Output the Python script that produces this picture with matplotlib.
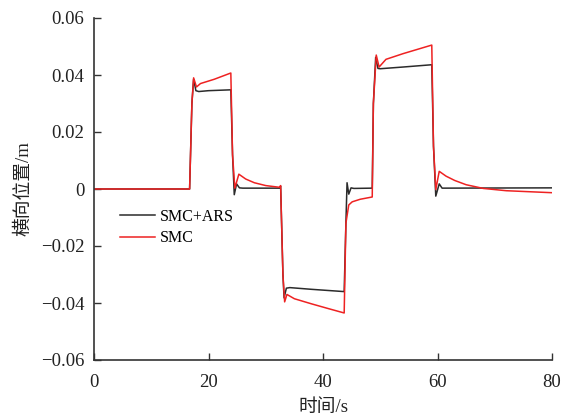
import matplotlib
matplotlib.use("Agg")
import matplotlib.pyplot as plt
import numpy as np

plt.rcParams['font.family'] = ['Liberation Serif', 'Noto Sans CJK SC']
plt.rcParams['font.size'] = 13.5

# keypoints (time [s], lateral position [m])
black_t = [0, 16.7, 17.1, 17.4, 17.8, 18.3, 20, 23.9, 24.2, 24.5, 24.9, 25.4, 26, 32.4, 32.6,
           33.0, 33.2, 33.6, 34.2, 38, 43.7, 44.0, 44.2, 44.5, 44.9, 45.4, 48.6, 48.8, 49.2,
           49.6, 50.0, 54, 59.0, 59.3, 59.7, 60.3, 60.8, 80]
black_y = [0, 0, 0.030, 0.0385, 0.0345, 0.0342, 0.0345, 0.0348, 0.012, -0.0020, 0.0018, 0.0004,
           0.0003, 0.0003, 0.0010, -0.030, -0.0382, -0.0348, -0.0346, -0.0352, -0.0360, -0.012,
           0.0022, -0.0018, 0.0004, 0.0002, 0.0003, 0.030, 0.0462, 0.0423, 0.0422, 0.0428,
           0.0436, 0.015, -0.0025, 0.0018, 0.0003, 0.0004]

red_t = [0, 16.7, 17.1, 17.4, 17.9, 18.6, 21, 23.9, 24.2, 24.6, 25.3, 26.5, 28, 30, 32.4, 32.6,
         33.0, 33.3, 33.7, 35, 38, 41, 43.7, 44.0, 44.5, 45.1, 46.5, 48.6, 48.8, 49.3, 49.8,
         51, 54, 59.0, 59.3, 59.7, 60.3, 61.5, 63, 65, 68, 72, 80]
red_y = [0, 0, 0.030, 0.0390, 0.0358, 0.0370, 0.0385, 0.0407, 0.012, 0.0003, 0.0052, 0.0035,
         0.0022, 0.0012, 0.0006, 0.0012, -0.030, -0.0396, -0.0370, -0.0385, -0.0403, -0.0420,
         -0.0435, -0.012, -0.0056, -0.0045, -0.0036, -0.0028, 0.030, 0.0470, 0.0428, 0.0455,
         0.0475, 0.0505, 0.015, -0.0002, 0.0062, 0.0045, 0.0030, 0.0015, 0.0002, -0.0006, -0.0013]

xticks = [0, 20, 40, 60, 80]
yticks = [-0.06, -0.04, -0.02, 0, 0.02, 0.04, 0.06]
ytick_labels = ['\u22120.06', '\u22120.04', '\u22120.02', '0', '0.02', '0.04', '0.06']

fig = plt.figure(figsize=(5.62, 4.16), dpi=100)
ax = fig.add_axes([94/562, 56/416, 458/562, 342/416])

ax.plot(black_t, black_y, color='#2b2b2b', lw=1.1, label='SMC+ARS')
ax.plot(red_t, red_y, color='#ee2222', lw=1.1, label='SMC')

ax.set_xlim(0, 80)
ax.set_ylim(-0.06, 0.06)
ax.set_xticks(xticks)
ax.set_xticklabels([str(v) for v in xticks])
ax.set_yticks(yticks)
ax.set_yticklabels(ytick_labels)
ax.tick_params(direction='in', length=5, width=1, color='#333333', labelcolor='#222222')
ax.tick_params(axis='x', pad=10)
ax.tick_params(axis='y', pad=7)
ax.spines['top'].set_visible(False)
ax.spines['right'].set_visible(False)
for s in ['left', 'bottom']:
    ax.spines[s].set_linewidth(1.2)
    ax.spines[s].set_color('#333333')

ax.set_xlabel('时间/s', color='#222222', labelpad=6)
ax.set_ylabel('横向位置/m', color='#222222', labelpad=6)

leg = ax.legend(loc='upper left', bbox_to_anchor=(0.025, 0.485), frameon=False,
                fontsize=11.5, handlelength=2.2, handletextpad=0.3, labelspacing=0.35)

plt.savefig('out.png', dpi=100)
